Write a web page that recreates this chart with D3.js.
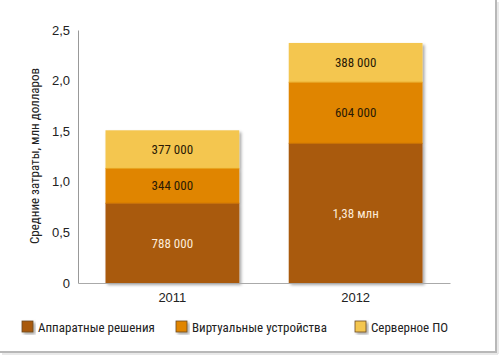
<!DOCTYPE html>
<html><head><meta charset="utf-8">
<script src="https://cdn.jsdelivr.net/npm/d3@7"></script>
<style>
html,body{margin:0;padding:0;background:#fff;}
svg{display:block;font-family:"Liberation Sans Narrow","Roboto Condensed","Liberation Sans",Arial,sans-serif;}
</style></head><body>
<svg id="chart" width="500" height="357"></svg>
<script>
const categories = ["2011", "2012"];
const seriesNames = ["Аппаратные решения", "Виртуальные устройства", "Серверное ПО"];
const hardware = [0.788, 1.38];
const virtualDev = [0.344, 0.604];
const serverSw = [0.377, 0.388];
const hardwareLabels = ["788 000", "1,38 млн"];
const virtualLabels = ["344 000", "604 000"];
const serverLabels = ["377 000", "388 000"];
const yTicks = [0, 0.5, 1.0, 1.5, 2.0, 2.5];
const yTickLabels = ["0", "0,5", "1,0", "1,5", "2,0", "2,5"];
const yTitle = "Средние затраты, млн долларов";

const colors = ["#A95A0F", "#E08500", "#F4C650"];
const textColors = ["#FCEBD8", "#2a1a05", "#2a1a05"];

const svg = d3.select("#chart");
const defs = svg.append("defs");
const f = defs.append("filter").attr("id","sh").attr("x","-10%").attr("y","-10%").attr("width","130%").attr("height","130%");
f.append("feDropShadow").attr("dx",2).attr("dy",2).attr("stdDeviation",1.5).attr("flood-color","#000").attr("flood-opacity",0.35);

// frame (right + bottom edges)
svg.append("line").attr("x1",496).attr("x2",496).attr("y1",0).attr("y2",352).attr("stroke","#b8b8b8").attr("stroke-width",2);
svg.append("line").attr("x1",0).attr("x2",497).attr("y1",352).attr("y2",352).attr("stroke","#b8b8b8").attr("stroke-width",2);
svg.append("line").attr("x1",498).attr("x2",498).attr("y1",2).attr("y2",354).attr("stroke","#e2e2e2").attr("stroke-width",1.5);
svg.append("line").attr("x1",2).attr("x2",498).attr("y1",354).attr("y2",354).attr("stroke","#e2e2e2").attr("stroke-width",1.5);

const x = d3.scaleBand().domain(categories).range([78, 450]).paddingInner(0.27).paddingOuter(0.15);
const y = d3.scaleLinear().domain([0, 2.5]).range([283, 30]);

const data = categories.map((c,i)=>({cat:c, v:[hardware[i], virtualDev[i], serverSw[i]], l:[hardwareLabels[i], virtualLabels[i], serverLabels[i]]}));
const stack = d3.stack().keys([0,1,2]).value((d,k)=>d.v[k]);
const layers = stack(data);

// bars group with shadow
const barG = svg.append("g").attr("filter","url(#sh)");
data.forEach((d,i)=>{
  const g = barG.append("g");
  layers.forEach((layer,k)=>{
    const s = layer[i];
    g.append("rect").attr("x", x(d.cat)).attr("width", x.bandwidth())
      .attr("y", y(s[1])).attr("height", y(s[0]) - y(s[1])).attr("fill", colors[k]);
  });
});
// subtle separators
layers.forEach((layer,k)=>{
  if(k===0) return;
  data.forEach((d,i)=>{
    svg.append("line").attr("x1",x(d.cat)).attr("x2",x(d.cat)+x.bandwidth())
      .attr("y1",y(layer[i][0])).attr("y2",y(layer[i][0]))
      .attr("stroke", k===1 ? "#c86f00" : "#e8a21c").attr("stroke-width",1);
  });
});

// value labels
layers.forEach((layer,k)=>{
  data.forEach((d,i)=>{
    const s = layer[i];
    svg.append("text").attr("x", x(d.cat)+x.bandwidth()/2).attr("y", (y(s[0])+y(s[1]))/2)
      .attr("dy","0.35em").attr("text-anchor","middle").attr("font-size",13)
      .attr("fill", textColors[k]).text(d.l[k]);
  });
});

// y axis
const yAxis = d3.axisLeft(y).tickValues(yTicks).tickSize(0).tickPadding(8).tickFormat((d,i)=>yTickLabels[i]);
const ya = svg.append("g").attr("transform","translate(78,0)").call(yAxis);
ya.select(".domain").attr("stroke","#999").attr("stroke-width",1);
ya.selectAll("text").attr("font-size",13).attr("fill","#222").attr("font-family",null);

// x axis
const xAxis = d3.axisBottom(x).tickSize(0).tickPadding(10);
const xa = svg.append("g").attr("transform","translate(0,283)").call(xAxis);
xa.select(".domain").attr("stroke","#aaa").attr("stroke-width",1);
xa.selectAll("text").attr("font-size",13).attr("fill","#222").attr("font-family",null);

// y title
svg.append("text").attr("transform","translate(39,156) rotate(-90)").attr("text-anchor","middle")
  .attr("font-size",13).attr("fill","#222").text(yTitle);

// legend
const legendX = [22, 176, 355];
const lg = svg.append("g");
seriesNames.forEach((n,k)=>{
  lg.append("rect").attr("x",legendX[k]).attr("y",321).attr("width",11).attr("height",11)
    .attr("fill",colors[k]).attr("stroke","#6b4a20").attr("stroke-width",0.8).attr("filter","url(#sh)");
  lg.append("text").attr("x",legendX[k]+16).attr("y",327).attr("dy","0.35em")
    .attr("font-size",13).attr("fill","#222").text(n);
});
</script>
</body></html>
